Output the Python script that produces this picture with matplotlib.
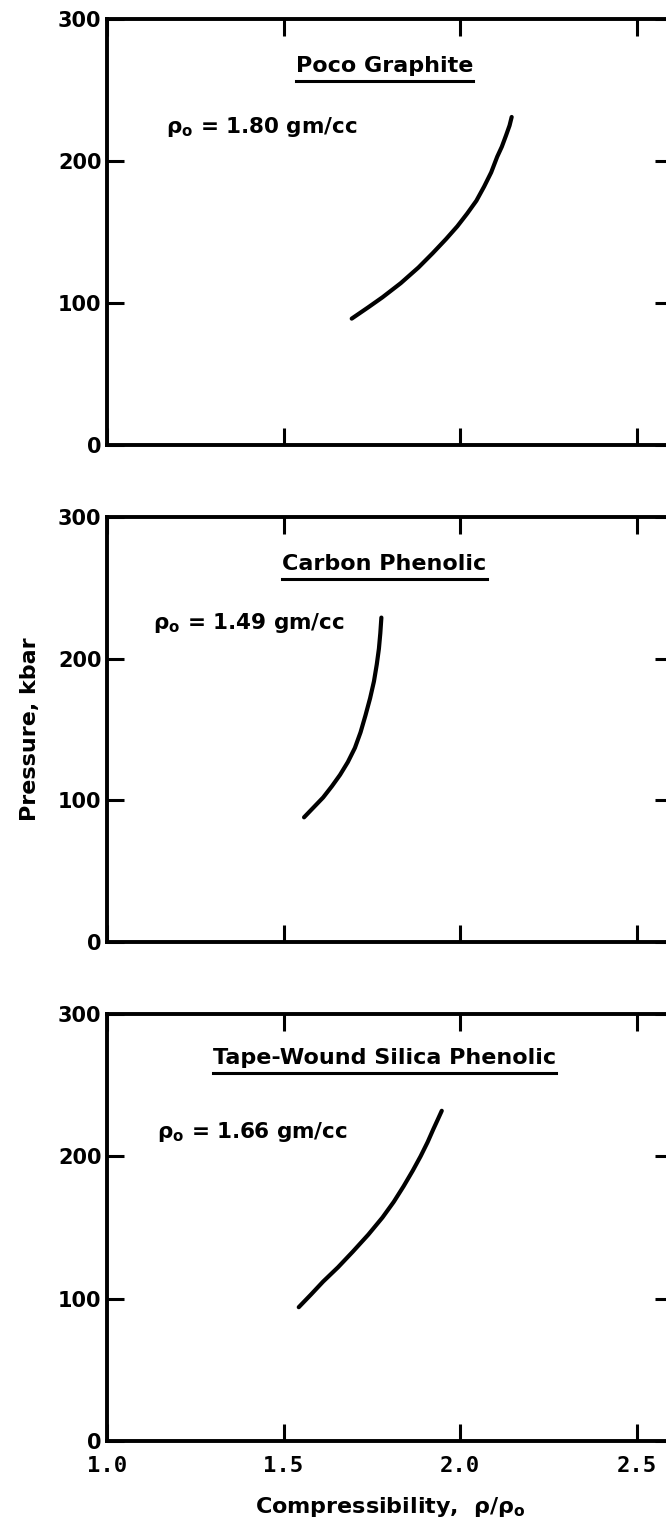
#!/usr/bin/env python3
"""
Shock Hugoniot curves: pressure vs compressibility for three materials.
"""

import matplotlib
matplotlib.use('Agg')
import matplotlib.pyplot as plt
from matplotlib import font_manager

# pick a narrow bold face if one is installed
names = {f.name for f in font_manager.fontManager.ttflist}
NARROW = 'Liberation Sans Narrow' if 'Liberation Sans Narrow' in names else 'DejaVu Sans'

plt.rcParams.update({
    'font.family': [NARROW, 'DejaVu Sans'],
    'font.weight': 'bold',
    'mathtext.fontset': 'custom',
    'mathtext.rm': NARROW + ':bold',
    'mathtext.it': NARROW + ':bold',
    'mathtext.bf': NARROW + ':bold',
})

# data
materials = ['Poco Graphite', 'Carbon Phenolic', 'Tape-Wound Silica Phenolic']
densities = ['1.80', '1.49', '1.66']

poco_x = [1.693, 1.740, 1.780, 1.832, 1.882, 1.922, 1.960, 1.992, 2.020,
          2.046, 2.068, 2.088, 2.105, 2.118, 2.130, 2.140, 2.146]
poco_y = [89, 97, 104, 114, 125, 135, 145, 154, 163,
          172, 182, 192, 203, 210, 218, 225, 231]

carbon_x = [1.558, 1.585, 1.612, 1.637, 1.660, 1.682, 1.702, 1.718, 1.732,
            1.745, 1.756, 1.764, 1.770, 1.774, 1.777]
carbon_y = [88, 95, 102, 110, 118, 127, 137, 148, 160,
            172, 184, 196, 207, 218, 229]

tape_x = [1.543, 1.578, 1.612, 1.654, 1.696, 1.740, 1.780, 1.812, 1.840,
          1.866, 1.888, 1.908, 1.924, 1.937, 1.948]
tape_y = [94, 103, 112, 122, 133, 145, 157, 168, 179,
          190, 200, 210, 219, 226, 232]

curves = [(poco_x, poco_y), (carbon_x, carbon_y), (tape_x, tape_y)]

x_ticks = [1.0, 1.5, 2.0, 2.5]
x_tick_labels = ['1.0', '1.5', '2.0', '2.5']
y_ticks = [0, 100, 200, 300]

# label positions (data coords) per panel
title_pos = [(1.786, 267), (1.786, 267), (1.786, 269)]
dens_pos = [(1.167, 224), (1.131, 225), (1.143, 217)]

W, H = 666, 1530
fig = plt.figure(figsize=(W / 100, H / 100), dpi=100)

# axes boxes in pixels: (top, bottom)
boxes = [(19, 445), (517, 942), (1014, 1441)]
left_px, right_px = 107, 672

axes = []
for i, (top, bot) in enumerate(boxes):
    ax = fig.add_axes([left_px / W, (H - bot) / H,
                       (right_px - left_px) / W, (bot - top) / H])
    ax.set_xlim(1.0, 2.6)
    ax.set_ylim(0, 300)
    for sp in ax.spines.values():
        sp.set_linewidth(2.8)
    ax.set_xticks(x_ticks)
    ax.set_yticks(y_ticks)
    ax.tick_params(direction='in', length=12, width=2.2,
                   top=True, right=True)
    ax.tick_params(axis='y', labelsize=15, pad=4)
    if i < 2:
        ax.set_xticklabels([])
    else:
        ax.set_xticklabels(x_tick_labels, family='DejaVu Sans Mono',
                           fontsize=16, fontweight='bold')
        ax.tick_params(axis='x', pad=11)

    cx, cy = curves[i]
    ax.plot(cx, cy, color='black', linewidth=3.0, solid_capstyle='round')

    tx, ty = title_pos[i]
    ax.text(tx, ty, materials[i], ha='center', va='center',
            fontsize=16, fontweight='bold', gid='title%d' % i)

    dx, dy = dens_pos[i]
    ax.text(dx, dy, 'ρ$_{\\mathrm{o}}$ = ' + densities[i] + ' gm/cc',
            ha='left', va='center', fontsize=15.5, fontweight='bold')
    axes.append(ax)

axes[1].set_ylabel('Pressure, kbar', fontsize=16, fontweight='bold')
axes[1].yaxis.set_label_coords(40 / W, (H - 729) / H, transform=fig.transFigure)

fig.text(390 / W, (H - 1507) / H, 'Compressibility,  ρ/ρ$_{\\mathrm{o}}$',
         ha='center', va='center', fontsize=16, fontweight='bold')

# underline the titles
fig.canvas.draw()
renderer = fig.canvas.get_renderer()
for ax in axes:
    for t in ax.texts:
        gid = t.get_gid()
        if gid and gid.startswith('title'):
            bb = t.get_window_extent(renderer)
            inv = ax.transData.inverted()
            (x0, y0), (x1, _) = inv.transform([(bb.x0, bb.y0 - 5), (bb.x1, bb.y0 - 5)])
            ax.plot([x0, x1], [y0, y0], color='black', linewidth=2.2)

fig.savefig('out.png', dpi=100)
